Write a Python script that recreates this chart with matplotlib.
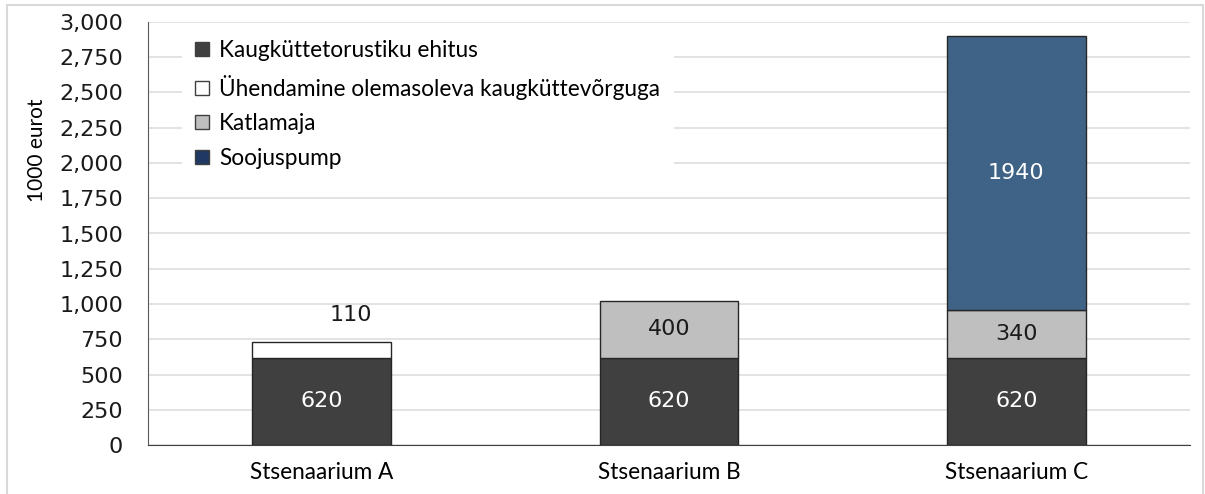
import matplotlib.pyplot as plt
from matplotlib.patches import Rectangle, Patch
from matplotlib.ticker import FuncFormatter, MultipleLocator

scenarios = ["Stsenaarium A", "Stsenaarium B", "Stsenaarium C"]
series_names = ["Kaugküttetorustiku ehitus",
                "Ühendamine olemasoleva kaugküttevõrguga",
                "Katlamaja",
                "Soojuspump"]
torustik = [620, 620, 620]
uhendamine = [110, 0, 0]
katlamaja = [0, 400, 340]
soojuspump = [0, 0, 1940]

colors = ["#404040", "#ffffff", "#bfbfbf", "#3e6387"]
legend_colors = ["#404040", "#ffffff", "#bfbfbf", "#1f3864"]

fig = plt.figure(figsize=(12.05, 4.94), dpi=100)
ax = fig.add_axes([148 / 1205, 1 - 445 / 494, (1190 - 148) / 1205, (445 - 22) / 494])

# light frame round the whole chart
fig.patches.append(Rectangle((7 / 1205, -0.05), 1196 / 1205, 1.05 - 5 / 494,
                             transform=fig.transFigure, fill=False,
                             edgecolor="#d9d9d9", lw=1.5))

x = list(range(len(scenarios)))
bottom = [0, 0, 0]
width = 0.4
for vals, c in zip([torustik, uhendamine, katlamaja, soojuspump], colors):
    for i in x:
        if vals[i] == 0:
            continue
        ax.bar(i, vals[i], width, bottom=bottom[i], color=c,
               edgecolor="#262626", lw=1, zorder=3)
    bottom = [b + v for b, v in zip(bottom, vals)]

# value labels
val_font = dict(family="DejaVu Sans", fontsize=16, ha="center", va="center", zorder=4)
for i in x:
    ax.text(i, torustik[i] / 2, str(torustik[i]), color="white", **val_font)
for i in x:
    if katlamaja[i]:
        ax.text(i, torustik[i] + katlamaja[i] / 2, str(katlamaja[i]), color="#1a1a1a", **val_font)
    if soojuspump[i]:
        base = torustik[i] + katlamaja[i]
        ax.text(i, base + soojuspump[i] / 2, str(soojuspump[i]), color="white", **val_font)
    if uhendamine[i]:
        ax.annotate(str(uhendamine[i]), (i, torustik[i] + uhendamine[i]),
                    xytext=(29, 27), textcoords="offset pixels",
                    color="#1a1a1a", family="DejaVu Sans", fontsize=16,
                    ha="center", va="center")

ax.set_xlim(-0.5, 2.5)
ax.set_ylim(0, 3000)
ax.yaxis.set_major_locator(MultipleLocator(250))
ax.yaxis.set_major_formatter(FuncFormatter(lambda v, p: f"{int(v):,}"))
ax.set_xticks(x)
ax.set_xticklabels(scenarios, family="Lato", fontsize=16.3)
for lab in ax.get_yticklabels():
    lab.set_family("DejaVu Sans")
    lab.set_fontsize(16)
    lab.set_color("#1a1a1a")
ax.tick_params(axis="y", length=0, pad=18)
ax.tick_params(axis="x", length=0, pad=12)
ax.grid(axis="y", color="#dedede", lw=1.2, zorder=0)
ax.set_axisbelow(True)
for s in ["top", "right"]:
    ax.spines[s].set_visible(False)
ax.spines["left"].set_color("#595959")
ax.spines["bottom"].set_color("#404040")

ax.set_ylabel("1000 eurot", family="Lato", fontsize=15)
ax.yaxis.set_label_coords(-0.097, 0.697)

handles = [Patch(facecolor=c, edgecolor="#404040", lw=1) for c in legend_colors]
leg = ax.legend(handles, series_names, loc="upper left", bbox_to_anchor=(0.028, 1.0),
                prop={"family": "Lato", "size": 16.3}, handlelength=0.6, handleheight=0.6,
                handletextpad=0.45, labelspacing=0.6, borderpad=0.6, borderaxespad=0.2,
                fancybox=False, framealpha=1, facecolor="white", edgecolor="none")
leg.set_zorder(5)

fig.savefig("out.png", dpi=100)
